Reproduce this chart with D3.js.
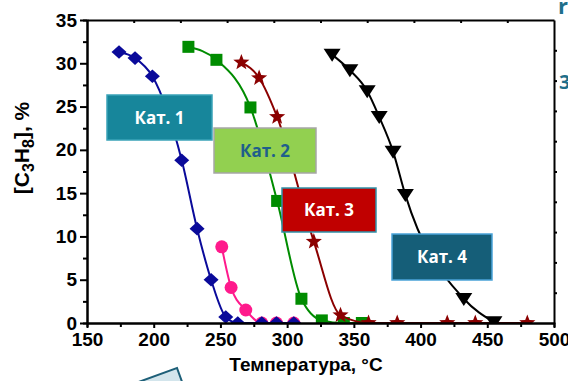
<!DOCTYPE html>
<html>
<head>
<meta charset="utf-8">
<script src="https://cdn.jsdelivr.net/npm/d3@7"></script>
<style>
  html, body { margin: 0; padding: 0; background: #fff; }
  svg { display: block; }
</style>
</head>
<body>
<svg id="chart" width="568" height="381"></svg>
<script>
// ---------------- data ----------------
const cat1T = [174, 186, 199, 221, 232.5, 243, 254, 263, 281, 292, 305];
const cat1V = [31.3, 30.6, 28.5, 18.8, 10.9, 5.0, 0.7, 0, 0, 0, 0];

const pinkT = [251, 258, 269, 281, 292, 305];
const pinkV = [8.8, 4.1, 1.5, 0, 0, 0];

const cat2T = [226, 247, 272.5, 292.5, 310.7, 326, 342.5, 356];
const cat2V = [31.9, 30.4, 24.9, 14.1, 2.8, 0.3, 0, 0];

const cat3T = [265.7, 279, 292.5, 320, 340, 361, 382.5, 420, 441, 480];
const cat3V = [30.1, 28.3, 23.8, 9.4, 0.9, 0, 0, 0, 0, 0];

const cat4T = [333.7, 347, 360, 369, 379.4, 388.6, 432.4, 455];
const cat4V = [31.0, 29.2, 26.8, 23.8, 19.8, 14.8, 2.8, 0.1];

const xTicks = [150, 200, 250, 300, 350, 400, 450, 500];
const xMinor = [175, 225, 275, 325, 375, 425, 475];
const yTicks = [0, 5, 10, 15, 20, 25, 30, 35];
const yMinor = [2.5, 7.5, 12.5, 17.5, 22.5, 27.5, 32.5];
const topTicks = [185, 220, 255, 290, 325, 360, 395, 430, 465];
const rightTicks = [3.5, 7, 10.5, 14, 17.5, 21, 24.5, 28, 31.5];

const labels = ["Кат. 1", "Кат. 2", "Кат. 3", "Кат. 4"];
const xTitle = "Температура, °C";

// ---------------- layout ----------------
const svg = d3.select("#chart");
const L = 87, R = 554, T = 20, B = 323;
const x = d3.scaleLinear().domain([150, 500]).range([L, R]);
const y = d3.scaleLinear().domain([0, 35]).range([B, T]);
const FONT = "'Liberation Sans', Arial, sans-serif";

// decorations from the slide behind
svg.append("rect")
  .attr("x", -90).attr("y", 0).attr("width", 90).attr("height", 60)
  .attr("transform", "translate(177,368) rotate(-20)")
  .attr("fill", "#d3e5ec").attr("stroke", "#1d5f78").attr("stroke-width", 2);
svg.append("text").attr("x", 558).attr("y", 14).text("r")
  .attr("font-family", "'Open Sans', sans-serif").attr("font-weight", "bold")
  .attr("font-size", 22).attr("fill", "#1f6f8b");
svg.append("text").attr("x", 559).attr("y", 89).text("3")
  .attr("font-family", "'Open Sans', sans-serif").attr("font-weight", "bold")
  .attr("font-size", 20).attr("fill", "#1f6f8b");

// clip
svg.append("defs").append("clipPath").attr("id", "plotclip")
  .append("rect").attr("x", L).attr("y", T - 10).attr("width", R - L).attr("height", B - T + 10);

const plot = svg.append("g").attr("clip-path", "url(#plotclip)");

const line = d3.line().x(d => x(d[0])).y(d => y(d[1])).curve(d3.curveMonotoneX);
const zip = (a, b) => a.map((v, i) => [v, b[i]]);

// marker shapes
function diamond(w, h) { return `M0,${-h}L${w},0L0,${h}L${-w},0Z`; }
function square(s) { return `M${-s},${-s}H${s}V${s}H${-s}Z`; }
function triDown(w, h) { return `M${-w},${-h * 0.45}L${w},${-h * 0.45}L0,${h * 0.55}Z`; }
function star(ro, ri) {
  let p = [];
  for (let i = 0; i < 10; i++) {
    const r = i % 2 ? ri : ro, a = -Math.PI / 2 + i * Math.PI / 5;
    p.push([r * Math.cos(a), r * Math.sin(a)]);
  }
  return "M" + p.map(d => d.join(",")).join("L") + "Z";
}

function series(T_, V_, color, markerPath, isCircle) {
  const data = zip(T_, V_);
  const g = plot.append("g");
  g.append("path").datum(data).attr("d", line)
    .attr("fill", "none").attr("stroke", color).attr("stroke-width", 2);
  if (isCircle) {
    g.selectAll("circle").data(data).join("circle")
      .attr("cx", d => x(d[0])).attr("cy", d => y(d[1])).attr("r", 6.5)
      .attr("fill", color);
  } else {
    g.selectAll("path.m").data(data).join("path").attr("class", "m")
      .attr("transform", d => `translate(${x(d[0])},${y(d[1])})`)
      .attr("d", markerPath).attr("fill", color);
  }
}

series(pinkT, pinkV, "#ff1a8c", null, true);
series(cat2T, cat2V, "#008c00", square(6));
series(cat3T, cat3V, "#8b0000", star(8.5, 3.6));
series(cat1T, cat1V, "#0a0a9a", diamond(7.5, 6.8));
series(cat4T, cat4V, "#000000", triDown(8.5, 13));

// ---------------- axes ----------------
const axisStyle = g => {
  g.select(".domain").attr("stroke", "#000").attr("stroke-width", 2);
  g.selectAll(".tick line").attr("stroke", "#000").attr("stroke-width", 2);
  g.selectAll("text").attr("font-family", FONT).attr("font-weight", "bold")
    .attr("font-size", 19).attr("fill", "#000");
};

svg.append("g").attr("transform", `translate(0,${B})`)
  .call(d3.axisBottom(x).tickValues(xMinor).tickSize(4).tickFormat(""))
  .call(axisStyle);
svg.append("g").attr("transform", `translate(0,${B})`)
  .call(d3.axisBottom(x).tickValues(xTicks).tickSize(5).tickPadding(5).tickFormat(d3.format("d")).tickSizeOuter(0))
  .call(axisStyle);

svg.append("g").attr("transform", `translate(${L},0)`)
  .call(d3.axisLeft(y).tickValues(yMinor).tickSize(4).tickFormat(""))
  .call(axisStyle);
svg.append("g").attr("transform", `translate(${L},0)`)
  .call(d3.axisLeft(y).tickValues(yTicks).tickSize(7).tickPadding(3).tickFormat(d3.format("d")).tickSizeOuter(0))
  .call(axisStyle);

// top axis (ticks only)
svg.append("g").attr("transform", `translate(0,${T})`)
  .call(d3.axisTop(x).tickValues(topTicks).tickSize(-3).tickFormat("").tickSizeOuter(0))
  .call(axisStyle);
// right axis (ticks only)
svg.append("g").attr("transform", `translate(${R},0)`)
  .call(d3.axisRight(y).tickValues(rightTicks).tickSize(3).tickFormat("").tickSizeOuter(0))
  .call(axisStyle);

// axis titles
svg.append("text").attr("x", 306).attr("y", 371)
  .attr("text-anchor", "middle").attr("font-family", FONT).attr("font-weight", "bold")
  .attr("font-size", 19).attr("fill", "#000").text(xTitle);

const yt = svg.append("text").attr("transform", "translate(29,148) rotate(-90)")
  .attr("text-anchor", "middle").attr("font-family", FONT).attr("font-weight", "bold")
  .attr("font-size", 21).attr("fill", "#000");
yt.append("tspan").text("[C");
yt.append("tspan").text("3").attr("font-size", 16).attr("dy", 5);
yt.append("tspan").text("H").attr("dy", -5);
yt.append("tspan").text("8").attr("font-size", 16).attr("dy", 5);
yt.append("tspan").text("], %").attr("dy", -5);

// ---------------- label boxes ----------------
const boxes = [
  { x0: 107, y0: 95, w: 105, h: 45, fill: "#17869b", stroke: "#3aa3b8", text: "#ffffff" },
  { x0: 214, y0: 128, w: 102, h: 45, fill: "#92d050", stroke: "#a6a6a6", text: "#1f5f8b" },
  { x0: 282, y0: 188, w: 94, h: 44, fill: "#c00000", stroke: "#3191a8", text: "#ffffff" },
  { x0: 392, y0: 234, w: 100, h: 46, fill: "#155e78", stroke: "#4aa3d8", text: "#ffffff" }
];
boxes.forEach((b, i) => {
  const g = svg.append("g");
  g.append("rect").attr("x", b.x0).attr("y", b.y0).attr("width", b.w).attr("height", b.h)
    .attr("fill", b.fill).attr("stroke", b.stroke).attr("stroke-width", 1.5);
  g.append("text").attr("x", b.x0 + b.w / 2).attr("y", b.y0 + b.h / 2 + 6)
    .attr("text-anchor", "middle").attr("font-family", "'Open Sans', sans-serif")
    .attr("font-weight", "bold").attr("font-size", 17).attr("fill", b.text).text(labels[i]);
});
</script>
</body>
</html>
